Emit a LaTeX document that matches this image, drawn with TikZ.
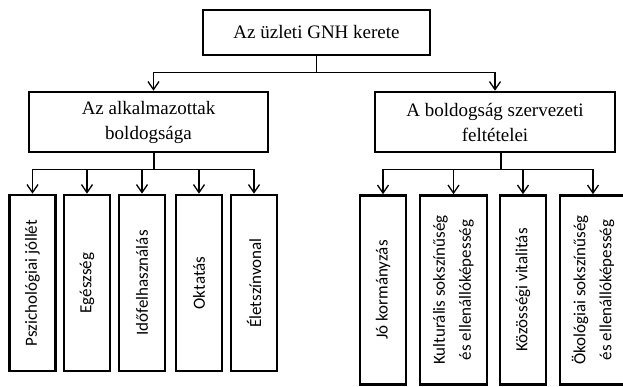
\documentclass[tikz,border=0pt]{standalone}
\usepackage{fontspec}
\setmainfont{Liberation Serif}
\newfontfamily\leaffont{Carlito}
\usetikzlibrary{arrows.meta}
\tikzstyle{every picture} += [x=1pt, y=-1pt]
\tikzstyle{headbox} = [draw, line width=2.6pt, inner sep=2pt, align=center, font={\fontsize{19}{25}\selectfont}]
\tikzstyle{leafbox} = [draw, line width=2.6pt, inner sep=2pt, rotate=90, align=center, font={\leaffont\fontsize{17}{26}\selectfont}]
\tikzstyle{link} = [line width=1.3pt, -{Straight Barb[length=8pt, width=11pt, line width=1.3pt]}]

\begin{document}
\begin{tikzpicture}
        \useasboundingbox (0,0) rectangle (623,387);

        \node[headbox, minimum width=227pt, minimum height=45pt] (gnh) at (316.5,32.5) {Az üzleti GNH kerete};

        \node[headbox, minimum width=239pt, minimum height=60pt] (emp) at (148.5,122) {Az alkalmazottak\\boldogsága};
        \node[headbox, minimum width=240pt, minimum height=60pt] (org) at (495,122) {A boldogság szervezeti\\feltételei};

        \node[leafbox, minimum width=176pt, minimum height=46pt] (l1) at (32.5,283) {Pszichológiai jóllét};
        \node[leafbox, minimum width=176pt, minimum height=46pt] (l2) at (87,283) {Egészség};
        \node[leafbox, minimum width=176pt, minimum height=46pt] (l3) at (142,283) {Időfelhasználás};
        \node[leafbox, minimum width=176pt, minimum height=46pt] (l4) at (199,283) {Oktatás};
        \node[leafbox, minimum width=176pt, minimum height=46pt] (l5) at (254,283) {Életszínvonal};

        \node[leafbox, minimum width=189pt, minimum height=46pt] (r1) at (383,290) {Jó kormányzás};
        \node[leafbox, minimum width=189pt, minimum height=67pt] (r2) at (453.5,290) {Kulturális sokszínűség\\és ellenállóképesség};
        \node[leafbox, minimum width=189pt, minimum height=46pt] (r3) at (523,290) {Közösségi vitalitás};
        \node[leafbox, minimum width=189pt, minimum height=66pt] (r4) at (593,290) {Ökológiai sokszínűség\\és ellenállóképesség};

        \draw[line width=1.3pt] (gnh.south) -- ++(0,16) coordinate (gnhb);
        \draw[link] (gnhb) -| ([xshift=5pt]emp.north);
        \draw[link] (gnhb) -| (org.north);

        \draw[line width=1.3pt] ([xshift=5.5pt]emp.south) -- ++(0,16) coordinate (empb);
        \foreach \n in {l1,l2,l3,l4,l5}
            \draw[link] (empb) -| (\n.east);

        \draw[line width=1.3pt] ([xshift=6pt]org.south) -- ++(0,16) coordinate (orgb);
        \foreach \n in {r1,r2,r3,r4}
            \draw[link] (orgb) -| (\n.east);
\end{tikzpicture}
\end{document}
